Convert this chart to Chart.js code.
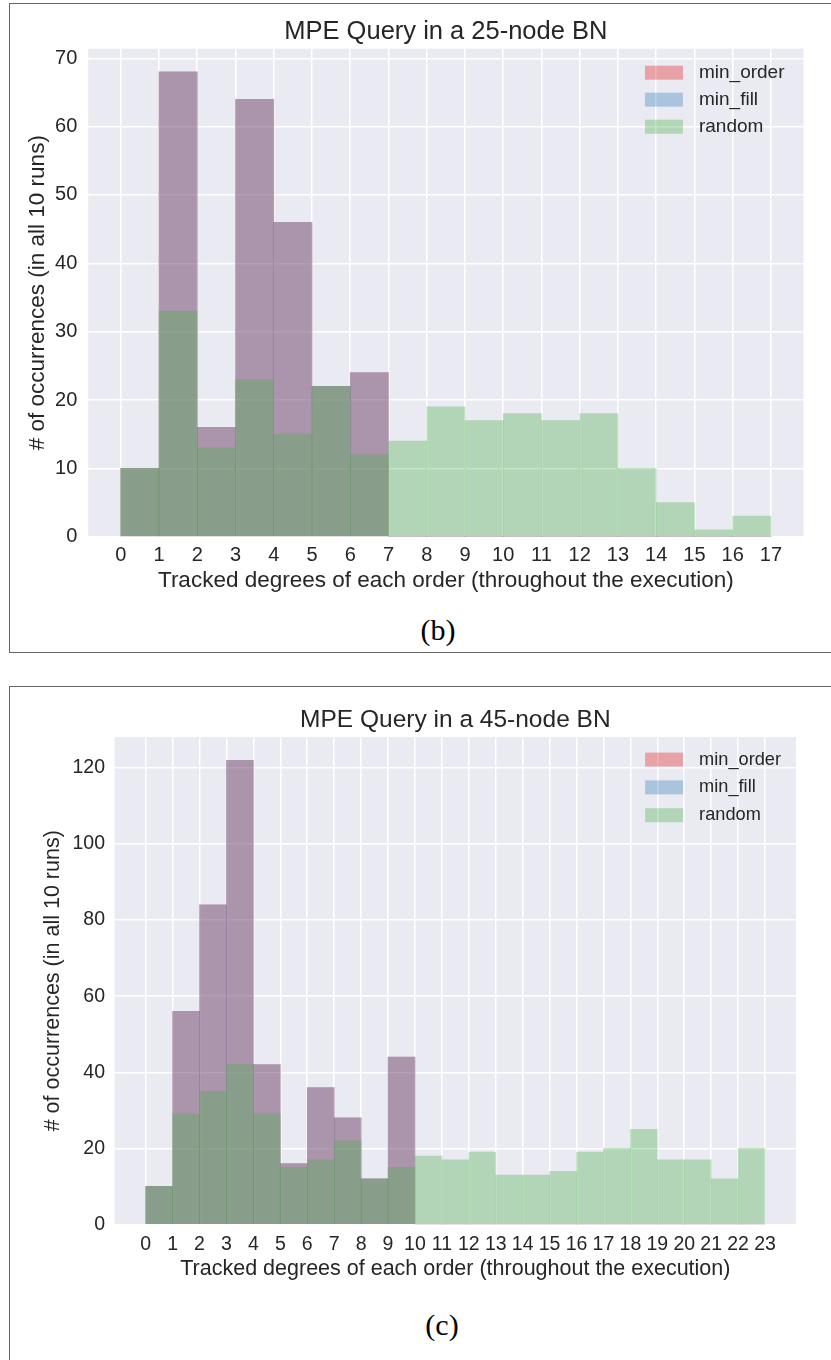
<!DOCTYPE html>
<html>
<head>
<meta charset="utf-8">
<script src="https://cdn.jsdelivr.net/npm/chart.js@4.4.1/dist/chart.umd.min.js"></script>
<style>
  body { margin: 0; width: 831px; height: 1360px; position: relative; background: #fff; overflow: hidden; }
  .panel { position: absolute; box-sizing: border-box; border: 1.5px solid #666; }
  canvas { position: absolute; left: 0; }
  .caption { position: absolute; width: 120px; text-align: center; font-family: 'Liberation Serif', 'Times New Roman', serif; font-size: 30px; color: #000; line-height: 1; }
</style>
</head>
<body>
<div class="panel" style="left:9px; top:3px; width:840px; height:650px;"></div>
<div class="panel" style="left:9px; top:686px; width:840px; height:720px;"></div>
<canvas id="chart25" width="831" height="600" style="top:0px;"></canvas>
<canvas id="chart45" width="831" height="600" style="top:690px;"></canvas>
<div class="caption" style="left:378px; top:615px;">(b)</div>
<div class="caption" style="left:382px; top:1310px;">(c)</div>
<script>
// data: 25-node network (bin edges 0..17)
const edges25 = [0, 1, 2, 3, 4, 5, 6, 7, 8, 9, 10, 11, 12, 13, 14, 15, 16, 17];
const minOrder25 = [10, 68, 16, 64, 46, 22, 24, 0, 0, 0, 0, 0, 0, 0, 0, 0, 0];
const minFill25 = [10, 68, 16, 64, 46, 22, 24, 0, 0, 0, 0, 0, 0, 0, 0, 0, 0];
const random25 = [10, 33, 13, 23, 15, 22, 12, 14, 19, 17, 18, 17, 18, 10, 5, 1, 3];
const yTicks25 = [0, 10, 20, 30, 40, 50, 60, 70];

// data: 45-node network (bin edges 0..23)
const edges45 = [0, 1, 2, 3, 4, 5, 6, 7, 8, 9, 10, 11, 12, 13, 14, 15, 16, 17, 18, 19, 20, 21, 22, 23];
const minOrder45 = [10, 56, 84, 122, 42, 16, 36, 28, 12, 44, 0, 0, 0, 0, 0, 0, 0, 0, 0, 0, 0, 0, 0];
const minFill45 = [10, 56, 84, 122, 42, 16, 36, 28, 12, 44, 0, 0, 0, 0, 0, 0, 0, 0, 0, 0, 0, 0, 0];
const random45 = [10, 29, 35, 42, 29, 15, 17, 22, 12, 15, 18, 17, 19, 13, 13, 14, 19, 20, 25, 17, 17, 12, 20];
const yTicks45 = [0, 20, 40, 60, 80, 100, 120];

const seriesNames = ['min_order', 'min_fill', 'random'];

const RED = 'rgba(228, 26, 28, 0.35)';
const BLUE = 'rgba(55, 126, 184, 0.35)';
const GREEN = 'rgba(77, 175, 74, 0.35)';
const TEXT = '#262626';

Chart.defaults.font.family = "'Liberation Sans', Arial, sans-serif";
Chart.defaults.color = TEXT;

// grey plot background (seaborn darkgrid)
const plotBackground = {
  id: 'plotBackground',
  beforeDraw(chart) {
    const {ctx, chartArea} = chart;
    ctx.save();
    ctx.fillStyle = '#eaeaf2';
    ctx.fillRect(chartArea.left, chartArea.top, chartArea.right - chartArea.left, chartArea.bottom - chartArea.top);
    ctx.restore();
  }
};

// legend drawn inside the plot, top right, like matplotlib's "best"
const cornerLegend = {
  id: 'cornerLegend',
  afterDatasetsDraw(chart, args, opts) {
    const {ctx, chartArea} = chart;
    const datasets = chart.data.datasets;
    ctx.save();
    ctx.font = opts.size + "px 'Liberation Sans', Arial, sans-serif";
    const textW = Math.max(...datasets.map(d => ctx.measureText(d.label).width));
    const boxX = chartArea.right - opts.right - textW - opts.gap - opts.boxWidth;
    datasets.forEach((d, i) => {
      const y = chartArea.top + opts.top + i * opts.rowHeight;
      ctx.fillStyle = d.backgroundColor;
      ctx.fillRect(boxX, y - opts.boxHeight / 2, opts.boxWidth, opts.boxHeight);
      ctx.fillStyle = TEXT;
      ctx.textBaseline = 'middle';
      ctx.textAlign = 'left';
      ctx.fillText(d.label, boxX + opts.boxWidth + opts.gap, y);
    });
    ctx.restore();
  }
};

function toBars(edges, counts) {
  return counts.map((c, i) => ({x: (edges[i] + edges[i + 1]) / 2, y: c}));
}

function histChart(canvas, edges, series, yTicks, s) {
  const colors = [RED, BLUE, GREEN];
  return new Chart(canvas, {
    type: 'bar',
    data: {
      datasets: series.map((counts, i) => ({
        label: seriesNames[i],
        data: toBars(edges, counts),
        backgroundColor: colors[i],
        borderWidth: 0,
        grouped: false,
        barPercentage: 1,
        categoryPercentage: 1,
        order: series.length - i
      }))
    },
    options: {
      responsive: false,
      animation: false,
      events: [],
      devicePixelRatio: 1,
      layout: { padding: { left: 0, right: s.padRight, top: 0, bottom: 0 } },
      scales: {
        x: {
          type: 'linear',
          offset: false,
          min: s.xMin,
          max: s.xMax,
          afterBuildTicks: scale => { scale.ticks = edges.map(v => ({value: v})); },
          afterFit: scale => { scale.height = s.xHeight; },
          ticks: { autoSkip: false, maxRotation: 0, padding: s.xTickPad, font: { size: s.tickSize }, color: TEXT },
          grid: { color: '#ffffff', lineWidth: 1.5, drawTicks: false, offset: false },
          border: { display: false },
          title: {
            display: true,
            text: 'Tracked degrees of each order (throughout the execution)',
            font: { size: s.labelSize },
            color: TEXT,
            padding: { top: 0, bottom: s.xTitlePad }
          }
        },
        y: {
          min: 0,
          max: s.yMax,
          afterBuildTicks: scale => { scale.ticks = yTicks.map(v => ({value: v})); },
          afterFit: scale => { scale.width = s.yWidth; },
          ticks: { padding: s.yTickPad, font: { size: s.tickSize }, color: TEXT },
          grid: { color: '#ffffff', lineWidth: 1.5, drawTicks: false },
          border: { display: false },
          title: {
            display: true,
            text: '# of occurrences (in all 10 runs)',
            font: { size: s.labelSize },
            color: TEXT,
            padding: { top: s.yTitlePad, bottom: 0 }
          }
        }
      },
      plugins: {
        legend: { display: false },
        tooltip: { enabled: false },
        title: {
          display: true,
          text: s.title,
          fullSize: false,
          color: TEXT,
          font: { size: s.titleSize, weight: 'normal' },
          padding: { top: s.titlePadTop, bottom: s.titlePadBottom }
        },
        cornerLegend: s.legend
      }
    },
    plugins: [plotBackground, cornerLegend]
  });
}

histChart(document.getElementById('chart25'), edges25, [minOrder25, minFill25, random25], yTicks25, {
  title: 'MPE Query in a 25-node BN',
  titleSize: 25.5, titlePadTop: 16.9, titlePadBottom: 1.2,
  padRight: 27.5,
  xMin: -0.85, xMax: 17.85, xHeight: 63.3, xTickPad: 6.3, xTitlePad: 5.9,
  yMax: 71.4, yWidth: 88.2, yTickPad: 10.9, yTitlePad: 24,
  tickSize: 20, labelSize: 22.5,
  legend: { size: 19, right: 19, top: 24, rowHeight: 27, boxWidth: 38, boxHeight: 14, gap: 16 }
});

histChart(document.getElementById('chart45'), edges45, [minOrder45, minFill45, random45], yTicks45, {
  title: 'MPE Query in a 45-node BN',
  titleSize: 24.5, titlePadTop: 15.3, titlePadBottom: 2.3,
  padRight: 35,
  xMin: -1.15, xMax: 24.15, xHeight: 65.5, xTickPad: 8.1, xTitlePad: 7.7,
  yMax: 128.1, yWidth: 114.7, yTickPad: 9.7, yTitlePad: 39.8,
  tickSize: 19.5, labelSize: 21.5,
  legend: { size: 18.2, right: 15, top: 22.6, rowHeight: 27.8, boxWidth: 38, boxHeight: 14, gap: 16 }
});
</script>
</body>
</html>
